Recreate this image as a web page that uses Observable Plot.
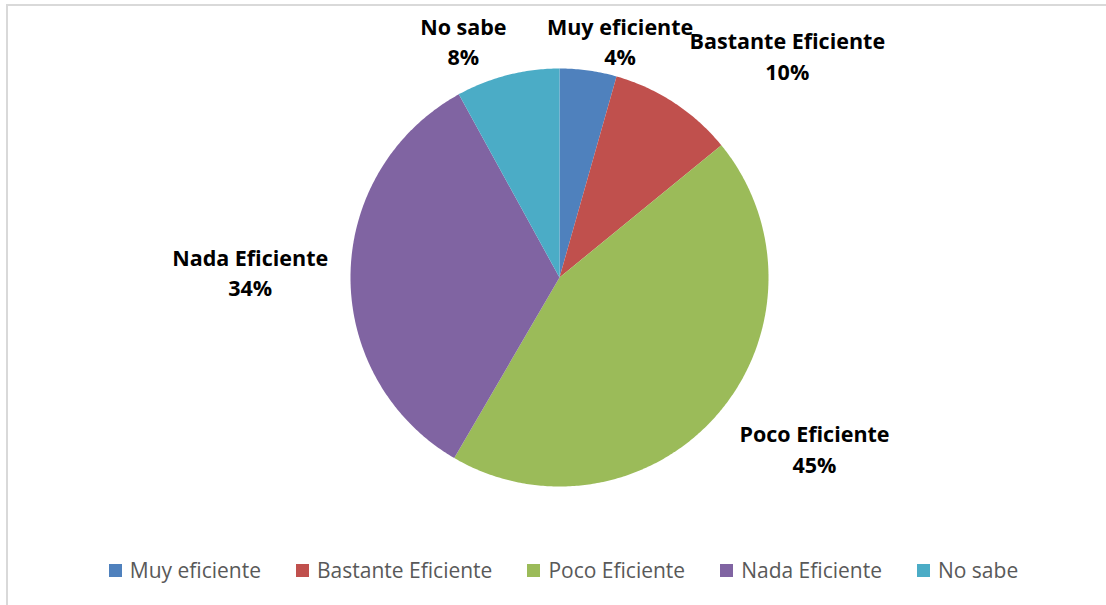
<!DOCTYPE html>
<html>
<head>
<meta charset="utf-8">
<script src="https://cdn.jsdelivr.net/npm/d3@7"></script>
<script src="https://cdn.jsdelivr.net/npm/@observablehq/plot@0.6"></script>
<style>
  html, body { margin: 0; padding: 0; background: #fff; overflow: hidden; width: 1106px; height: 605px; }
  #frame { position: absolute; left: 6px; top: 4px; width: 1120px; height: 620px; border: 2px solid #d9d9d9; box-sizing: border-box; pointer-events: none; }
  #chart { position: absolute; left: 0; top: 0; }
  #legend { position: absolute; left: 0; top: 545px; width: 1106px; height: 60px; display: flex; justify-content: center; align-items: flex-start; gap: 35px; padding-left: 21px; padding-top: 11px; box-sizing: border-box; font-family: "Open Sans", sans-serif; font-size: 21px; color: #595959; }
  .item { display: flex; align-items: center; gap: 8px; white-space: nowrap; }
  .sw { width: 13px; height: 13px; display: inline-block; }
</style>
</head>
<body>
<div id="chart"></div>
<div id="legend"></div>
<div id="frame"></div>
<script>
// ---- data ----
const categories = ["Muy eficiente", "Bastante Eficiente", "Poco Eficiente", "Nada Eficiente", "No sabe"];
const values = [4.4, 9.7, 44.3, 33.6, 8.0];
const valueLabels = ["4%", "10%", "45%", "34%", "8%"];
const colors = ["#4F81BD", "#C0504D", "#9BBB59", "#8064A2", "#4BACC6"];

// ---- layout (label anchor positions, in pie-radius units from centre) ----
const labelLayout = [
  [0.29, 1.135],
  [1.09, 1.065],
  [1.22, -0.815],
  [-1.48, 0.03],
  [-0.46, 1.135]
];

// ---- geometry ----
const W = 1106, H = 545, cx = 559, cy = 277, R = 209;
const pie = d3.pie().sort(null).value(d => d.v)(categories.map((c, i) => ({c, v: values[i]})));
const pts = [];
pie.forEach(s => {
  const cat = s.data.c;
  pts.push({cat, u: 0, v: 0});
  const n = Math.max(4, Math.ceil((s.endAngle - s.startAngle) / 0.01));
  for (let k = 0; k <= n; k++) {
    const a = s.startAngle + (s.endAngle - s.startAngle) * k / n;
    pts.push({cat, u: Math.sin(a), v: Math.cos(a)});
  }
  pts.push({cat, u: 0, v: 0});
});
const labels = categories.map((c, i) => ({cat: c, text: c + "\n" + valueLabels[i], u: labelLayout[i][0], v: labelLayout[i][1]}));

const plot = Plot.plot({
  width: W, height: H,
  margin: 0,
  x: {domain: [-cx / R, (W - cx) / R], axis: null},
  y: {domain: [(cy - H) / R, cy / R], axis: null},
  color: {domain: categories, range: colors},
  style: {background: "transparent"},
  marks: [
    Plot.line(pts, {x: "u", y: "v", z: "cat", fill: "cat", stroke: "none", curve: "linear"}),
    Plot.text(labels, {x: "u", y: "v", text: "text", fill: "#000", fontSize: 21.5, fontWeight: "bold", fontFamily: "'Open Sans', sans-serif", lineHeight: 1.42, textAnchor: "middle"})
  ]
});
document.getElementById("chart").appendChild(plot);

const leg = document.getElementById("legend");
categories.forEach((c, i) => {
  const it = document.createElement("div");
  it.className = "item";
  it.innerHTML = `<span class="sw" style="background:${colors[i]}"></span><span>${c}</span>`;
  leg.appendChild(it);
});
</script>
</body>
</html>
